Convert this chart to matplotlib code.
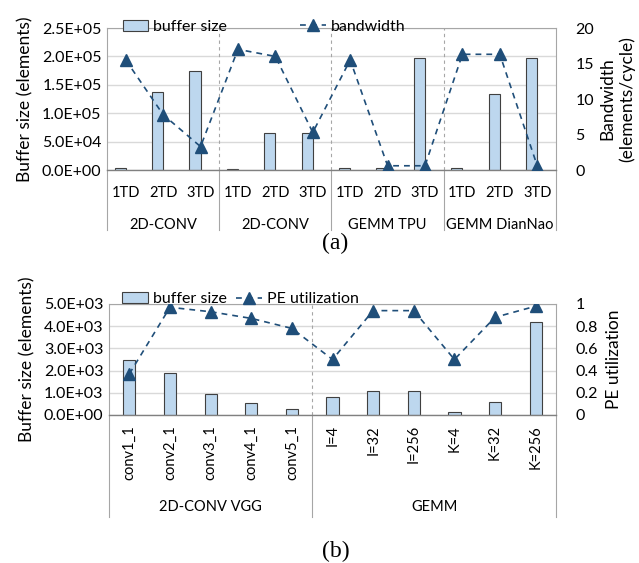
import matplotlib
matplotlib.use("Agg")
import matplotlib.pyplot as plt
import matplotlib.transforms as mtransforms
from matplotlib.ticker import FuncFormatter

plt.rcParams['font.family'] = ['Lato', 'DejaVu Sans']
plt.rcParams['font.size'] = 11.5

# ---- data (a)
a_ticks = ["1TD", "2TD", "3TD"] * 4
a_groups = ["2D-CONV", "2D-CONV", "GEMM TPU", "GEMM DianNao"]
a_buffer = [4000, 137000, 175000,
            1000, 65000, 65000,
            3000, 4000, 197000,
            3000, 133000, 197000]
a_bandwidth = [15.5, 7.8, 3.3,
               17.0, 16.0, 5.3,
               15.5, 0.6, 0.6,
               16.3, 16.3, 0.6]

# ---- data (b)
b_ticks = ["conv1_1", "conv2_1", "conv3_1", "conv4_1", "conv5_1",
           "I=4", "I=32", "I=256", "K=4", "K=32", "K=256"]
b_groups = ["2D-CONV VGG", "GEMM"]
b_group_sizes = [5, 6]
b_buffer = [2480, 1870, 960, 520, 280,
            790, 1100, 1100, 130, 570, 4180]
b_pe = [0.37, 0.97, 0.93, 0.87, 0.78,
        0.50, 0.94, 0.94, 0.50, 0.88, 0.98]

bar_color = "#BDD7EE"
edge_color = "#404040"
line_color = "#1F4E79"
grid_color = "#D9D9D9"
axis_color = "#A6A6A6"
cat_size = 10.5

def sci(v, pos):
    return "%.1E" % v

fig = plt.figure(figsize=(6.39, 5.63), dpi=100)

def style_axes(ax, ax2):
    for sp in ["top", "right", "left"]:
        ax.spines[sp].set_color(axis_color)
        ax.spines[sp].set_linewidth(0.8)
    ax.spines["bottom"].set_color("#808080")
    ax.spines["bottom"].set_linewidth(1.0)
    for sp in ax2.spines.values():
        sp.set_visible(False)
    ax.tick_params(axis="y", length=0, pad=4)
    ax2.tick_params(axis="y", length=0, pad=14)
    ax.tick_params(axis="x", length=0, labelbottom=False)
    ax.yaxis.grid(True, color=grid_color, linewidth=1.0)
    ax.set_axisbelow(True)

def draw_categories(ax, sizes, groups, group_y, line_y):
    trans = mtransforms.blended_transform_factory(ax.transData, ax.transAxes)
    edges = [0]
    for s in sizes:
        edges.append(edges[-1] + s)
    for e in edges:
        x = e - 0.5
        ax.plot([x, x], [0, line_y], transform=trans, color=axis_color,
                linewidth=0.8, clip_on=False)
        if 0 < e < edges[-1]:
            ax.plot([x, x], [0, 1], transform=trans, color="#A6A6A6",
                    linewidth=0.8, linestyle=(0, (3, 3)))
    for i, g in enumerate(groups):
        xc = (edges[i] + edges[i + 1] - 1) / 2
        ax.text(xc, group_y, g, transform=trans, ha="center", va="center",
                fontsize=cat_size)

# ---------------- (a)
ax = fig.add_axes([0.1675, 0.698, 0.7025, 0.2522])
ax2 = ax.twinx()
xa = list(range(len(a_ticks)))
ax.bar([x - 0.15 for x in xa], a_buffer, width=0.3, color=bar_color,
       edgecolor=edge_color, linewidth=0.8, label="buffer size", zorder=2)
ax2.plot(xa, a_bandwidth, color=line_color, linestyle=(0, (3.5, 3)),
         linewidth=1.2, marker="^", markersize=8, label="bandwidth")
ax.set_xlim(-0.5, len(a_ticks) - 0.5)
ax.set_ylim(0, 250000)
ax.set_yticks([0, 50000, 100000, 150000, 200000, 250000])
ax.yaxis.set_major_formatter(FuncFormatter(sci))
ax2.set_ylim(0, 20)
ax2.set_yticks([0, 5, 10, 15, 20])
style_axes(ax, ax2)
ax.set_ylabel("Buffer size (elements)", labelpad=6, fontsize=12.5)
ax2.set_ylabel("Bandwidth\n(elements/cycle)", labelpad=4, fontsize=12.5)
trans = mtransforms.blended_transform_factory(ax.transData, ax.transAxes)
for x, t in zip(xa, a_ticks):
    ax.text(x, -0.162, t, transform=trans, ha="center", va="center",
            fontsize=cat_size)
draw_categories(ax, [3, 3, 3, 3], a_groups, -0.387, -0.4225)
h1, l1 = ax.get_legend_handles_labels()
h2, l2 = ax2.get_legend_handles_labels()
ax.legend(h1 + h2, l1 + l2, ncol=2, frameon=False, loc="lower left",
          bbox_to_anchor=(0.035, 0.96), handlelength=1.6, handletextpad=0.3,
          columnspacing=4.6, borderaxespad=0, borderpad=0)
fig.text(0.525, 0.568, "(a)", family="Liberation Serif", fontsize=17,
         ha="center", va="center")

# ---------------- (b)
bx = fig.add_axes([0.1706, 0.2629, 0.6995, 0.1972])
bx2 = bx.twinx()
xb = list(range(len(b_ticks)))
bx.bar(xb, b_buffer, width=0.3, color=bar_color, edgecolor=edge_color,
       linewidth=0.8, label="buffer size", zorder=2)
bx2.plot(xb, b_pe, color=line_color, linestyle=(0, (3.5, 3)), linewidth=1.2,
         marker="^", markersize=8, label="PE utilization")
bx.set_xlim(-0.5, len(b_ticks) - 0.5)
bx.set_ylim(0, 5000)
bx.set_yticks([0, 1000, 2000, 3000, 4000, 5000])
bx.yaxis.set_major_formatter(FuncFormatter(sci))
bx2.set_ylim(0, 1)
bx2.set_yticks([0, 0.2, 0.4, 0.6, 0.8, 1])
bx2.yaxis.set_major_formatter(FuncFormatter(lambda v, p: "%g" % v))
style_axes(bx, bx2)
bx.set_ylabel("Buffer size (elements)", labelpad=6, fontsize=12.5)
bx2.set_ylabel("PE utilization", labelpad=6, fontsize=12.5)
trans = mtransforms.blended_transform_factory(bx.transData, bx.transAxes)
for x, t in zip(xb, b_ticks):
    bx.text(x, -0.09, t, transform=trans, ha="center", va="top", rotation=90,
            fontsize=cat_size)
draw_categories(bx, b_group_sizes, b_groups, -0.83, -0.92)
h1, l1 = bx.get_legend_handles_labels()
h2, l2 = bx2.get_legend_handles_labels()
bx.legend(h1 + h2, l1 + l2, ncol=2, frameon=False, loc="lower left",
          bbox_to_anchor=(0.03, 0.98), handlelength=1.6, handletextpad=0.3,
          columnspacing=0.6, borderaxespad=0, borderpad=0)
fig.text(0.525, 0.02, "(b)", family="Liberation Serif", fontsize=17,
         ha="center", va="center")

fig.savefig("out.png", dpi=100)
